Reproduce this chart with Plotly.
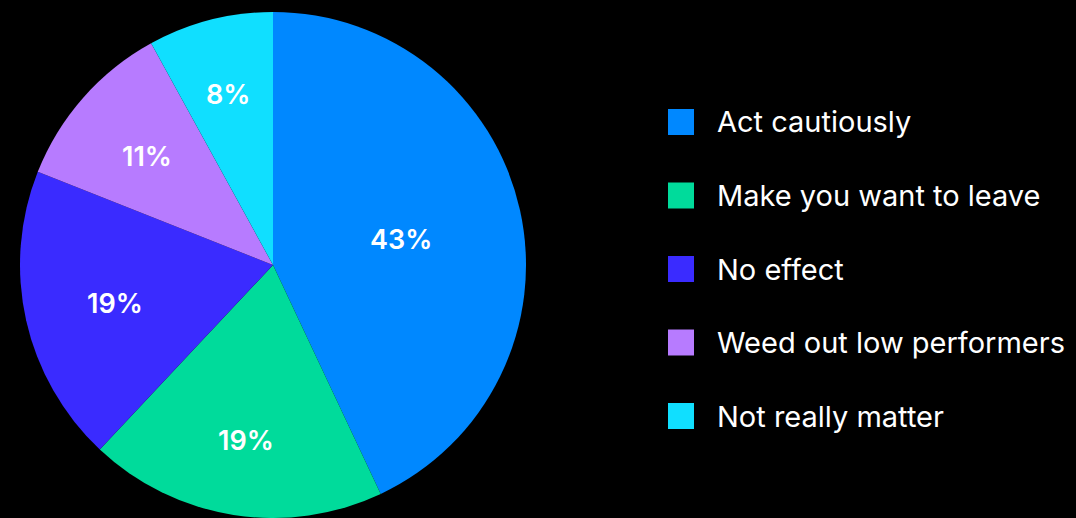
import math
import plotly.graph_objects as go

# Survey responses
labels = ["Act cautiously", "Make you want to leave", "No effect",
          "Weed out low performers", "Not really matter"]
values = [43, 19, 19, 11, 8]
colors = ["#0088FF", "#00DB9B", "#3A2BFF", "#B77BFF", "#10DFFF"]

W, H = 1076, 518
FONT = "Inter, Lato, sans-serif"

# Pie placement (pixels)
CX, CY, R = 273, 265, 253
# Radial position of each percentage label, as a fraction of the radius
label_radius = [0.52, 0.69, 0.64, 0.665, 0.71]

fig = go.Figure()
fig.add_trace(go.Pie(
    labels=labels,
    values=values,
    sort=False,
    direction="clockwise",
    rotation=0,
    marker=dict(colors=colors, line=dict(width=0)),
    textinfo="none",
    showlegend=False,
    domain=dict(x=[(CX - R) / W, (CX + R) / W], y=[0, 2 * R / H]),
    hoverinfo="label+value",
))

# Percentage labels placed along each slice's mid-angle
total = sum(values)
cum = 0
for v, fr in zip(values, label_radius):
    mid = (cum + v / 2) / total * 2 * math.pi  # clockwise from 12 o'clock
    cum += v
    px = CX + fr * R * math.sin(mid)
    py = CY - fr * R * math.cos(mid)
    fig.add_annotation(xref="paper", yref="paper",
                       x=px / W, y=1 - py / H, yshift=-3,
                       xanchor="center", yanchor="middle",
                       text=f"{v}%", showarrow=False,
                       font=dict(family=FONT, size=27, color="white", weight=600))

# Legend drawn as square swatches with labels
top_y, step = 122, 73.5
for i, (lab, col) in enumerate(zip(labels, colors)):
    yc = top_y + i * step
    fig.add_shape(type="rect", xref="paper", yref="paper",
                  x0=668 / W, x1=694 / W,
                  y0=1 - (yc - 13) / H, y1=1 - (yc + 13) / H,
                  fillcolor=col, line=dict(width=0))
    fig.add_annotation(xref="paper", yref="paper",
                       x=715 / W, y=1 - yc / H,
                       xanchor="left", yanchor="middle",
                       text=lab, showarrow=False,
                       font=dict(family=FONT, size=29, color="white"))

fig.update_layout(
    width=W, height=H,
    margin=dict(l=0, r=0, t=0, b=0),
    paper_bgcolor="black",
    plot_bgcolor="black",
)

fig.write_html("out.html")
